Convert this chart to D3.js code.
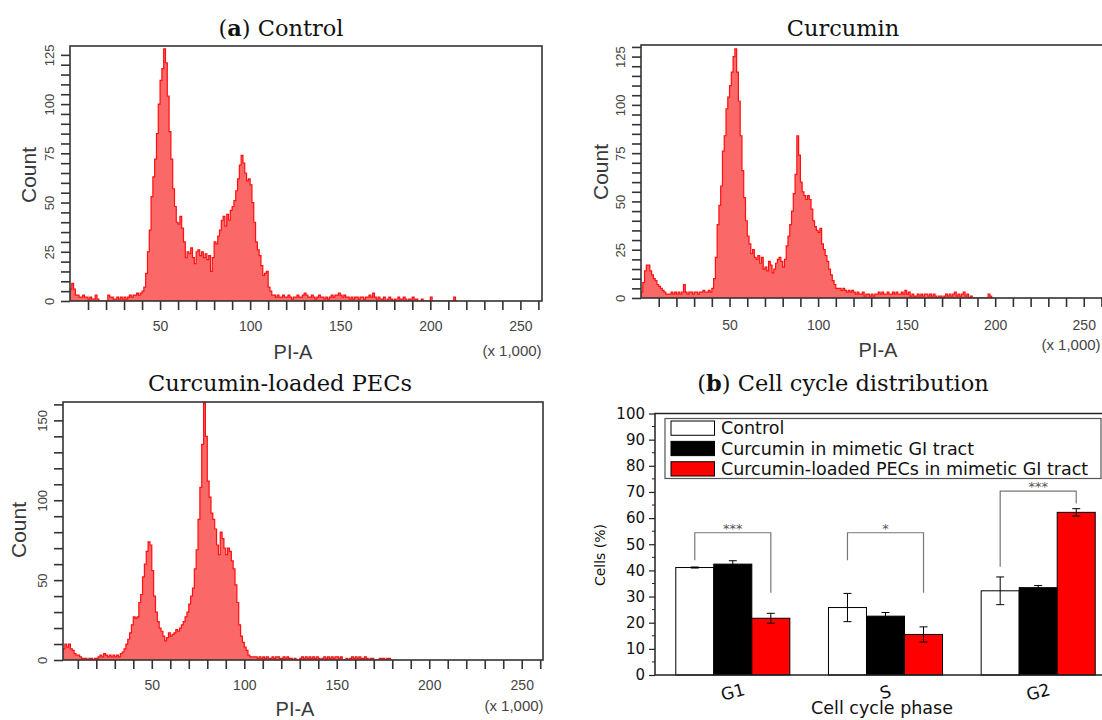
<!DOCTYPE html>
<html>
<head>
<meta charset="utf-8">
<script src="https://cdn.jsdelivr.net/npm/d3@7"></script>
<style>
  body { margin: 0; background: #fff; }
  svg { display: block; }
</style>
</head>
<body>
<svg id="fig" width="1102" height="720"></svg>
<script>
// counts per PI-A channel (channel width = 1 x 1,000), index 0 = PI-A 0
const controlCounts = [
    6, 9, 6, 3, 3, 2, 2, 3, 2, 2,
    1, 2, 1, 1, 3, 1, 0, 0, 0, 0,
    0, 3, 2, 2, 1, 1, 2, 1, 2, 1,
    2, 1, 2, 3, 2, 3, 3, 4, 3, 4,
    5, 7, 14, 25, 36, 53, 63, 72, 85, 100,
    112, 118, 128, 121, 104, 86, 72, 57, 48, 40,
    39, 43, 37, 30, 22, 25, 24, 27, 22, 19,
    25, 26, 23, 25, 22, 24, 21, 23, 15, 22,
    30, 29, 33, 36, 41, 43, 38, 44, 41, 46,
    48, 51, 56, 62, 69, 74, 70, 65, 61, 62,
    59, 50, 40, 30, 26, 23, 18, 13, 14, 15,
    7, 5, 3, 3, 2, 3, 2, 2, 3, 2,
    2, 3, 2, 1, 2, 2, 3, 2, 2, 3,
    4, 3, 2, 2, 3, 2, 1, 2, 3, 2,
    2, 1, 2, 1, 2, 3, 2, 3, 3, 4,
    3, 2, 3, 2, 2, 1, 2, 1, 2, 2,
    1, 2, 2, 1, 2, 2, 3, 2, 4, 2,
    1, 2, 1, 1, 2, 0, 1, 2, 1, 0,
    1, 0, 2, 1, 1, 2, 1, 0, 1, 1,
    2, 1, 1, 0, 0, 1, 0, 0, 0, 0,
    2, 0, 0, 0, 0, 0, 0, 0, 0, 0,
    0, 0, 0, 2, 0
];

const curcuminCounts = [
    3, 8, 14, 17, 17, 14, 12, 10, 9, 7,
    6, 5, 4, 3, 2, 2, 2, 3, 2, 3,
    2, 3, 2, 3, 7, 3, 2, 3, 3, 2,
    3, 3, 2, 3, 3, 4, 3, 3, 4, 3,
    5, 10, 21, 38, 48, 58, 76, 84, 98, 104,
    110, 117, 125, 129, 117, 102, 84, 66, 52, 40,
    32, 28, 23, 25, 21, 20, 22, 18, 21, 15,
    16, 14, 19, 17, 13, 15, 18, 20, 21, 19,
    16, 20, 27, 32, 38, 45, 54, 64, 84, 74,
    60, 55, 53, 51, 53, 51, 46, 40, 37, 35,
    34, 36, 28, 25, 22, 19, 15, 12, 9, 7,
    5, 5, 5, 4, 5, 4, 3, 4, 3, 4,
    3, 2, 3, 2, 2, 3, 1, 2, 2, 1,
    2, 1, 2, 2, 3, 2, 3, 2, 2, 3,
    2, 2, 3, 2, 3, 2, 2, 3, 2, 4,
    2, 3, 1, 2, 1, 1, 2, 1, 2, 1,
    2, 2, 1, 2, 1, 2, 1, 0, 1, 1,
    0, 1, 2, 1, 2, 1, 2, 3, 1, 2,
    1, 2, 3, 1, 2, 0, 1, 0, 0, 0,
    0, 0, 0, 0, 0, 0, 2, 1, 0
];

const pecCounts = [
    0, 5, 7, 10, 8, 10, 7, 6, 4, 3,
    3, 2, 1, 1, 1, 0, 1, 1, 0, 1,
    1, 2, 3, 2, 4, 3, 2, 3, 2, 3,
    2, 3, 2, 4, 5, 7, 10, 13, 17, 22,
    27, 26, 27, 36, 41, 52, 60, 68, 74, 72,
    56, 40, 30, 24, 20, 18, 15, 12, 14, 17,
    15, 16, 17, 19, 18, 20, 22, 24, 27, 30,
    35, 40, 45, 57, 69, 88, 108, 135, 161, 140,
    112, 102, 92, 88, 82, 72, 66, 80, 76, 70,
    66, 70, 68, 62, 57, 47, 36, 22, 15, 11,
    8, 6, 3, 2, 2, 2, 2, 1, 2, 1,
    2, 1, 2, 1, 1, 2, 1, 2, 2, 1,
    1, 2, 1, 2, 1, 1, 0, 1, 0, 0,
    1, 2, 1, 2, 1, 2, 1, 2, 1, 2,
    1, 0, 1, 2, 1, 2, 1, 2, 1, 2,
    2, 1, 2, 0, 0, 1, 0, 1, 2, 1,
    2, 1, 2, 1, 1, 2, 1, 0, 1, 1,
    0, 0, 0, 1, 1, 1, 0, 1, 1, 0
];

// panel (b) cell cycle distribution, % of cells
const phases = ['G1', 'S', 'G2'];
const groupNames = ['Control', 'Curcumin in mimetic GI tract', 'Curcumin-loaded PECs in mimetic GI tract'];
const controlPct = [41.1, 25.8, 32.2];
const curcuminPct = [42.4, 22.5, 33.4];
const pecPct = [21.7, 15.5, 62.2];
const controlSd = [0.2, 5.4, 5.3];
const curcuminSd = [1.3, 1.4, 0.8];
const pecSd = [1.9, 2.9, 1.4];
const sigMarks = ['***', '*', '***'];
const sigTop = [54.4, 54.4, 70.3];
const sigLeftEnd = [43.9, 43.9, 41.4];
const sigRightEnd = [31.5, 31.5, 65.6];

const svg = d3.select('#fig');
const sansFont = 'Liberation Sans, Arial, sans-serif';
const barFont = 'DejaVu Sans, Verdana, sans-serif';
const serifFont = 'DejaVu Serif, serif';
const histFill = '#fb6868';
const histStroke = '#ff1010';
const axisColor = '#333';

// titles
function title(x, y, bold, rest) {
    const t = svg.append('text')
        .attr('x', x).attr('y', y)
        .attr('text-anchor', 'middle')
        .attr('font-family', serifFont)
        .attr('font-size', 22.5)
        .attr('fill', '#111');
    if (bold) {
        t.append('tspan').text('(');
        t.append('tspan').attr('font-weight', 'bold').text(bold);
        t.append('tspan').text(') ' + rest);
    } else {
        t.text(rest);
    }
}
title(281, 36, 'a', 'Control');
title(843, 36, null, 'Curcumin');
title(280, 391, null, 'Curcumin-loaded PECs');
title(843, 391, 'b', 'Cell cycle distribution');

// flow cytometry histograms
function drawHistogram(p) {
    const g = svg.append('g');
    const x = d3.scaleLinear().domain(p.xDomain).range([p.left, p.right]);
    const y = d3.scaleLinear().domain([0, p.yMax]).range([p.bottom, p.top]);
    const clipId = 'clip-' + p.id;
    svg.append('clipPath').attr('id', clipId)
        .append('rect')
        .attr('x', p.left).attr('y', p.top)
        .attr('width', p.right - p.left).attr('height', p.bottom - p.top);

    const pts = p.counts.map((c, i) => [i, c]).concat([[p.counts.length, 0]]);
    const area = d3.area()
        .x(d => x(d[0]))
        .y0(y(0))
        .y1(d => y(d[1]))
        .curve(d3.curveStepAfter);
    const line = d3.line()
        .x(d => x(d[0]))
        .y(d => y(d[1]))
        .curve(d3.curveStepAfter);

    g.append('path').datum(pts)
        .attr('clip-path', `url(#${clipId})`)
        .attr('d', area)
        .attr('fill', histFill);
    g.append('path').datum(pts)
        .attr('clip-path', `url(#${clipId})`)
        .attr('d', line)
        .attr('fill', 'none')
        .attr('stroke', histStroke)
        .attr('stroke-width', 1.2);

    // frame
    g.append('rect')
        .attr('x', p.left).attr('y', p.top)
        .attr('width', p.right - p.left).attr('height', p.bottom - p.top)
        .attr('fill', 'none')
        .attr('stroke', axisColor)
        .attr('stroke-width', 1.6);

    // x axis
    const xAxis = d3.axisBottom(x)
        .tickValues(d3.range(10, p.xDomain[1], 10))
        .tickSize(9)
        .tickFormat(d => d % 50 === 0 ? d : '');
    const gx = g.append('g')
        .attr('transform', `translate(0,${p.bottom})`)
        .call(xAxis);
    gx.select('.domain').remove();
    gx.selectAll('line').attr('stroke', axisColor).attr('stroke-width', 1.6);
    gx.selectAll('text')
        .attr('y', p.labelOff).attr('dy', '0.35em')
        .attr('font-family', sansFont).attr('font-size', 14)
        .attr('fill', '#444');

    // y axis
    const yAxis = d3.axisLeft(y)
        .tickValues(d3.range(0, p.yMax, p.yMinor))
        .tickSize(9)
        .tickFormat(d => d % p.yMajor === 0 ? d : '');
    const gy = g.append('g')
        .attr('transform', `translate(${p.left},0)`)
        .call(yAxis);
    gy.select('.domain').remove();
    gy.selectAll('line').attr('stroke', axisColor).attr('stroke-width', 1.6);
    gy.selectAll('text')
        .attr('transform', 'rotate(-90)')
        .attr('x', 0).attr('y', -16).attr('dy', 0)
        .attr('text-anchor', 'middle')
        .attr('font-family', sansFont).attr('font-size', 13)
        .attr('fill', '#444');

    // axis titles
    g.append('text')
        .attr('transform', `translate(${p.countX},${p.countY}) rotate(-90)`)
        .attr('text-anchor', 'middle')
        .attr('dy', '0.35em')
        .attr('font-family', sansFont).attr('font-size', 21)
        .attr('fill', '#3a3a3a')
        .text('Count');
    g.append('text')
        .attr('x', p.piX).attr('y', p.piY)
        .attr('text-anchor', 'middle')
        .attr('font-family', sansFont).attr('font-size', 20)
        .attr('fill', '#3a3a3a')
        .text('PI-A');
    g.append('text')
        .attr('x', p.unitX).attr('y', p.unitY)
        .attr('text-anchor', 'middle')
        .attr('font-family', sansFont).attr('font-size', 15)
        .attr('fill', '#444')
        .text('(x 1,000)');
}

drawHistogram({
    id: 'control', counts: controlCounts,
    xDomain: [0, 262], left: 70, right: 542,
    yMax: 129.5, top: 46, bottom: 301, yMinor: 5, yMajor: 25, labelOff: 25,
    countX: 29, countY: 175, piX: 293, piY: 359, unitX: 512, unitY: 356
});
drawHistogram({
    id: 'curcumin', counts: curcuminCounts,
    xDomain: [0, 262], left: 641, right: 1105,
    yMax: 131, top: 45, bottom: 298, yMinor: 5, yMajor: 25, labelOff: 27,
    countX: 601, countY: 172, piX: 878, piY: 357, unitX: 1071, unitY: 350
});
drawHistogram({
    id: 'pec', counts: pecCounts,
    xDomain: [2, 261.5], left: 63, right: 543,
    yMax: 161.5, top: 402, bottom: 660, yMinor: 10, yMajor: 50, labelOff: 25,
    countX: 19, countY: 530, piX: 295, piY: 716, unitX: 514, unitY: 711
});

// bar chart (b)
const bx = { left: 655, right: 1116, top: 413.5, bottom: 675 };
const yPct = d3.scaleLinear().domain([0, 100]).range([bx.bottom, bx.top]);
const xPhase = d3.scaleBand().domain(phases)
    .range([bx.left, bx.right])
    .paddingInner(0.253)
    .paddingOuter(0.136);
const xGroup = d3.scaleBand().domain(groupNames).range([0, xPhase.bandwidth()]);
const series = [controlPct, curcuminPct, pecPct];
const seriesSd = [controlSd, curcuminSd, pecSd];
const barColors = ['#ffffff', '#000000', '#ff0000'];

const bars = [];
phases.forEach((ph, i) => {
    groupNames.forEach((gn, j) => {
        bars.push({ phase: ph, group: gn, value: series[j][i], sd: seriesSd[j][i], color: barColors[j] });
    });
});

const gb = svg.append('g');
gb.selectAll('rect.bar')
    .data(bars)
    .enter()
    .append('rect')
    .attr('class', 'bar')
    .attr('x', d => xPhase(d.phase) + xGroup(d.group))
    .attr('y', d => yPct(d.value))
    .attr('width', xGroup.bandwidth())
    .attr('height', d => yPct(0) - yPct(d.value))
    .attr('fill', d => d.color)
    .attr('stroke', '#000')
    .attr('stroke-width', 1);

// error bars
const errG = gb.selectAll('g.err')
    .data(bars)
    .enter()
    .append('g')
    .attr('class', 'err')
    .attr('transform', d => `translate(${xPhase(d.phase) + xGroup(d.group) + xGroup.bandwidth() / 2},0)`);
errG.append('line')
    .attr('x1', 0).attr('x2', 0)
    .attr('y1', d => yPct(d.value - d.sd))
    .attr('y2', d => yPct(d.value + d.sd))
    .attr('stroke', '#000').attr('stroke-width', 1);
errG.selectAll('line.cap')
    .data(d => [d.value - d.sd, d.value + d.sd])
    .enter()
    .append('line')
    .attr('class', 'cap')
    .attr('x1', -4).attr('x2', 4)
    .attr('y1', v => yPct(v)).attr('y2', v => yPct(v))
    .attr('stroke', '#000').attr('stroke-width', 1);

// significance brackets
phases.forEach((ph, i) => {
    const xl = xPhase(ph) + xGroup(groupNames[0]) + xGroup.bandwidth() / 2;
    const xr = xPhase(ph) + xGroup(groupNames[2]) + xGroup.bandwidth() / 2;
    gb.append('path')
        .attr('d', `M${xl},${yPct(sigLeftEnd[i])}V${yPct(sigTop[i])}H${xr}V${yPct(sigRightEnd[i])}`)
        .attr('fill', 'none')
        .attr('stroke', '#777')
        .attr('stroke-width', 1.2);
    gb.append('text')
        .attr('x', (xl + xr) / 2)
        .attr('y', yPct(sigTop[i]))
        .attr('text-anchor', 'middle')
        .attr('font-family', barFont).attr('font-size', 13)
        .attr('fill', '#555')
        .text(sigMarks[i]);
});

// frame and y axis
gb.append('path')
    .attr('d', `M${bx.right},${bx.top}H${bx.left}V${bx.bottom}H${bx.right}`)
    .attr('fill', 'none')
    .attr('stroke', '#222')
    .attr('stroke-width', 1.5);

const yAxisPct = d3.axisLeft(yPct)
    .tickValues(d3.range(0, 101, 10))
    .tickSize(6)
    .tickPadding(4);
const gyb = gb.append('g')
    .attr('transform', `translate(${bx.left},0)`)
    .call(yAxisPct);
gyb.select('.domain').remove();
gyb.selectAll('line').attr('stroke', '#222').attr('stroke-width', 1.2);
gyb.selectAll('text')
    .attr('font-family', barFont).attr('font-size', 15)
    .attr('fill', '#111');
gyb.selectAll('line.minor')
    .data(d3.range(5, 100, 10))
    .enter()
    .append('line')
    .attr('class', 'minor')
    .attr('x1', -3).attr('x2', 0)
    .attr('y1', d => yPct(d)).attr('y2', d => yPct(d))
    .attr('stroke', '#222').attr('stroke-width', 1);

// phase labels
gb.selectAll('text.phase')
    .data(phases)
    .enter()
    .append('text')
    .attr('class', 'phase')
    .attr('transform', d => `translate(${xPhase(d) + xPhase.bandwidth() / 2},${bx.bottom + 17}) rotate(-15)`)
    .attr('text-anchor', 'middle')
    .attr('dy', '0.35em')
    .attr('font-family', barFont).attr('font-size', 17)
    .attr('fill', '#111')
    .text(d => d);

gb.append('text')
    .attr('x', 882).attr('y', 714)
    .attr('text-anchor', 'middle')
    .attr('font-family', barFont).attr('font-size', 17.5)
    .attr('fill', '#111')
    .text('Cell cycle phase');
gb.append('text')
    .attr('transform', 'translate(600,555) rotate(-90)')
    .attr('text-anchor', 'middle')
    .attr('dy', '0.35em')
    .attr('font-family', barFont).attr('font-size', 14)
    .attr('fill', '#111')
    .text('Cells (%)');

// legend
const lg = gb.append('g');
lg.append('rect')
    .attr('x', 665).attr('y', 418.5)
    .attr('width', 436).attr('height', 60)
    .attr('fill', '#fff')
    .attr('stroke', '#555')
    .attr('stroke-width', 1.2);
const legRow = d3.scaleBand().domain(groupNames).range([421, 476]).paddingInner(0.3);
lg.selectAll('rect.sw')
    .data(groupNames)
    .enter()
    .append('rect')
    .attr('class', 'sw')
    .attr('x', 671).attr('y', d => legRow(d))
    .attr('width', 43.5).attr('height', legRow.bandwidth())
    .attr('fill', (d, i) => barColors[i])
    .attr('stroke', '#000').attr('stroke-width', 1);
lg.selectAll('text.lt')
    .data(groupNames)
    .enter()
    .append('text')
    .attr('class', 'lt')
    .attr('x', 721).attr('y', d => legRow(d) + legRow.bandwidth() / 2)
    .attr('dy', '0.36em')
    .attr('font-family', barFont).attr('font-size', 17.5)
    .attr('fill', '#111')
    .text(d => d);
</script>
</body>
</html>
